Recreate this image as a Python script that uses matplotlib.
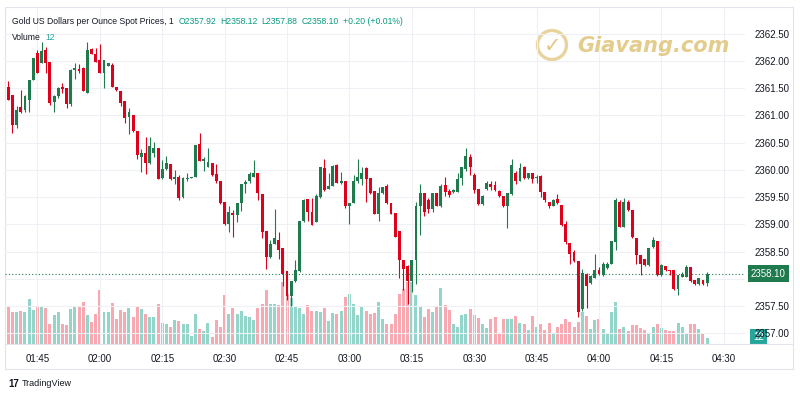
import numpy as np
import matplotlib
matplotlib.use("Agg")
from matplotlib import pyplot as plt
from matplotlib import transforms
from matplotlib.patches import Circle, Rectangle

plt.rcParams['font.family'] = ['Liberation Sans', 'DejaVu Sans']

# 1-minute candles from 01:38 to 04:26
start_minute = 1 * 60 + 38

opens = [2361.53, 2361.38, 2360.83, 2361.15, 2361.10, 2361.29, 2361.66, 2362.15, 2361.96, 2362.20,
         2361.98, 2361.24, 2361.35, 2361.53, 2361.50, 2361.21, 2361.83, 2361.85, 2361.87, 2361.42,
         2362.22, 2362.13, 2362.01, 2361.78, 2361.90, 2361.93, 2361.53, 2361.44, 2361.26, 2360.97,
         2361.01, 2360.72, 2360.23, 2360.31, 2360.12, 2360.31, 2360.40, 2359.85, 2360.01, 2360.11,
         2359.83, 2359.87, 2359.50, 2359.83, 2359.86, 2359.87, 2360.47, 2360.17, 2360.06, 2360.12,
         2359.93, 2359.80, 2359.42, 2359.00, 2359.21, 2359.17, 2359.39, 2359.74, 2359.79, 2359.88,
         2359.94, 2359.56, 2358.88, 2358.40, 2358.65, 2358.72, 2358.56, 2358.15, 2357.68, 2357.96,
         2358.15, 2359.07, 2359.46, 2359.23, 2359.04, 2359.50, 2360.03, 2359.66, 2359.71, 2360.09,
         2359.76, 2359.79, 2359.34, 2359.40, 2359.79, 2359.83, 2360.03, 2359.85, 2359.62, 2359.19,
         2359.58, 2359.71, 2359.39, 2359.21, 2358.88, 2358.34, 2358.23, 2357.96, 2358.34, 2359.33,
         2359.57, 2359.45, 2359.29, 2359.57, 2359.33, 2359.72, 2359.62, 2359.60, 2359.60, 2359.85,
         2360.01, 2360.23, 2359.91, 2359.66, 2359.37, 2359.66, 2359.75, 2359.72, 2359.62, 2359.52,
         2359.34, 2359.56, 2359.95, 2359.79, 2360.05, 2359.85, 2359.94, 2359.86, 2359.89, 2359.60,
         2359.42, 2359.34, 2359.46, 2359.36, 2359.01, 2358.66, 2358.50, 2358.33, 2357.45, 2358.10,
         2357.93, 2358.01, 2358.17, 2358.07, 2358.21, 2358.28, 2358.68, 2359.42, 2358.96, 2359.42,
         2359.26, 2358.76, 2358.44, 2358.36, 2358.25, 2358.59, 2358.70, 2358.07, 2358.23, 2358.17,
         2358.16, 2357.82, 2358.04, 2358.04, 2358.22, 2357.99, 2357.91, 2357.99, 2357.92]
highs = [2361.64, 2361.38, 2361.17, 2361.47, 2361.38, 2361.66, 2362.06, 2362.21, 2362.34, 2362.25,
         2361.98, 2361.38, 2361.53, 2361.60, 2361.50, 2361.85, 2361.96, 2361.94, 2361.89, 2362.34,
         2362.24, 2362.24, 2362.32, 2362.02, 2361.96, 2361.96, 2361.53, 2361.44, 2361.26, 2361.14,
         2361.01, 2360.72, 2360.38, 2360.61, 2360.60, 2360.52, 2360.40, 2360.18, 2360.25, 2360.11,
         2360.00, 2359.91, 2359.88, 2359.94, 2359.88, 2360.46, 2360.67, 2360.23, 2360.40, 2360.12,
         2360.11, 2359.80, 2359.42, 2359.34, 2359.26, 2359.39, 2359.74, 2359.82, 2359.96, 2360.18,
         2359.94, 2359.56, 2358.88, 2358.72, 2359.29, 2358.87, 2358.56, 2358.15, 2357.96, 2358.34,
         2359.07, 2359.47, 2359.47, 2359.48, 2359.56, 2360.05, 2360.21, 2359.94, 2360.09, 2360.11,
         2359.96, 2359.79, 2359.40, 2359.91, 2360.21, 2360.06, 2360.06, 2359.85, 2359.62, 2359.69,
         2359.69, 2359.75, 2359.39, 2359.21, 2358.88, 2358.35, 2358.25, 2358.34, 2359.42, 2359.74,
         2359.58, 2359.48, 2359.58, 2359.58, 2359.75, 2359.88, 2359.65, 2359.66, 2359.94, 2360.06,
         2360.40, 2360.29, 2359.94, 2359.66, 2359.54, 2359.79, 2359.79, 2359.80, 2359.64, 2359.52,
         2359.57, 2360.21, 2359.98, 2360.13, 2360.07, 2359.95, 2359.95, 2359.91, 2359.91, 2359.60,
         2359.42, 2359.46, 2359.56, 2359.36, 2359.06, 2358.66, 2358.53, 2358.33, 2358.19, 2358.11,
         2358.07, 2358.45, 2358.22, 2358.31, 2358.31, 2358.70, 2359.48, 2359.45, 2359.48, 2359.44,
         2359.26, 2358.76, 2358.44, 2358.36, 2358.56, 2358.77, 2358.70, 2358.27, 2358.23, 2358.17,
         2358.16, 2358.07, 2358.13, 2358.25, 2358.22, 2357.99, 2358.02, 2357.99, 2358.12]
lows = [2361.28, 2360.67, 2360.77, 2361.05, 2361.07, 2361.07, 2361.66, 2361.78, 2361.96, 2361.78,
        2361.20, 2361.07, 2361.32, 2361.41, 2361.13, 2361.17, 2361.67, 2361.78, 2361.44, 2361.42,
        2362.12, 2361.99, 2361.78, 2361.50, 2361.90, 2361.53, 2361.44, 2361.17, 2360.87, 2360.66,
        2360.69, 2360.20, 2359.97, 2359.93, 2360.11, 2360.23, 2359.83, 2359.83, 2360.00, 2359.82,
        2359.74, 2359.45, 2359.48, 2359.79, 2359.85, 2359.87, 2360.17, 2359.98, 2360.06, 2359.89,
        2359.77, 2359.37, 2358.99, 2358.87, 2358.77, 2359.05, 2359.24, 2359.58, 2359.77, 2359.87,
        2359.45, 2358.76, 2358.19, 2358.39, 2358.64, 2358.37, 2357.88, 2357.62, 2357.50, 2357.94,
        2358.13, 2359.05, 2359.07, 2358.99, 2359.04, 2359.48, 2359.62, 2359.65, 2359.70, 2359.76,
        2359.75, 2359.30, 2359.01, 2359.39, 2359.77, 2359.73, 2359.42, 2359.56, 2359.19, 2359.07,
        2359.56, 2359.37, 2359.19, 2358.77, 2358.02, 2357.80, 2357.55, 2357.76, 2357.90, 2358.80,
        2359.15, 2359.21, 2359.23, 2359.33, 2359.32, 2359.52, 2359.51, 2359.58, 2359.59, 2359.72,
        2359.98, 2359.91, 2359.58, 2359.35, 2359.35, 2359.63, 2359.63, 2359.62, 2359.51, 2359.32,
        2358.93, 2359.54, 2359.75, 2359.79, 2359.83, 2359.83, 2359.77, 2359.77, 2359.51, 2359.42,
        2359.30, 2359.33, 2359.38, 2358.97, 2358.64, 2358.28, 2358.31, 2357.30, 2357.41, 2357.47,
        2357.91, 2358.01, 2358.07, 2358.05, 2358.19, 2358.27, 2358.54, 2358.95, 2358.95, 2359.25,
        2358.76, 2358.28, 2358.08, 2358.23, 2358.23, 2358.57, 2358.05, 2358.05, 2358.15, 2358.08,
        2357.80, 2357.71, 2358.03, 2358.03, 2357.94, 2357.89, 2357.89, 2357.89, 2357.88]
closes = [2361.28, 2360.82, 2361.10, 2361.07, 2361.35, 2361.66, 2362.06, 2361.78, 2362.18, 2361.96,
          2361.23, 2361.35, 2361.50, 2361.49, 2361.21, 2361.84, 2361.87, 2361.81, 2361.44, 2362.21,
          2362.12, 2361.99, 2361.78, 2362.02, 2361.96, 2361.53, 2361.47, 2361.23, 2360.95, 2361.06,
          2360.71, 2360.28, 2360.31, 2360.13, 2360.44, 2360.40, 2359.83, 2360.01, 2360.12, 2359.83,
          2359.87, 2359.48, 2359.85, 2359.86, 2359.87, 2360.46, 2360.17, 2360.20, 2360.15, 2359.91,
          2359.79, 2359.40, 2359.00, 2359.23, 2359.18, 2359.39, 2359.74, 2359.78, 2359.93, 2359.94,
          2359.57, 2358.87, 2358.40, 2358.64, 2358.76, 2358.54, 2358.10, 2357.68, 2357.96, 2358.16,
          2359.07, 2359.45, 2359.23, 2358.99, 2359.52, 2360.05, 2359.64, 2359.71, 2360.07, 2359.77,
          2359.79, 2359.34, 2359.40, 2359.80, 2359.87, 2359.94, 2359.83, 2359.58, 2359.20, 2359.57,
          2359.68, 2359.39, 2359.20, 2358.77, 2358.34, 2358.19, 2357.96, 2358.34, 2359.34, 2359.57,
          2359.23, 2359.28, 2359.57, 2359.34, 2359.71, 2359.60, 2359.54, 2359.64, 2359.83, 2360.05,
          2360.25, 2360.05, 2359.64, 2359.37, 2359.52, 2359.77, 2359.69, 2359.64, 2359.52, 2359.33,
          2359.57, 2360.09, 2359.79, 2360.03, 2359.85, 2359.95, 2359.83, 2359.87, 2359.60, 2359.44,
          2359.34, 2359.45, 2359.39, 2358.99, 2358.67, 2358.45, 2358.33, 2357.39, 2358.11, 2357.88,
          2358.05, 2358.17, 2358.09, 2358.27, 2358.28, 2358.70, 2359.44, 2358.96, 2359.42, 2359.26,
          2358.77, 2358.44, 2358.28, 2358.25, 2358.56, 2358.71, 2358.07, 2358.25, 2358.16, 2358.15,
          2357.82, 2358.07, 2358.09, 2358.22, 2357.96, 2357.91, 2358.02, 2357.91, 2358.10]
volumes = [80, 67, 67, 70, 67, 94, 71, 80, 80, 76, 43, 61, 67, 43, 40, 74, 78, 80, 89, 61,
           46, 63, 113, 67, 67, 87, 52, 71, 67, 76, 56, 80, 73, 64, 56, 56, 85, 45, 43, 36,
           50, 48, 41, 41, 17, 64, 31, 28, 45, 15, 50, 35, 104, 63, 76, 64, 69, 59, 56, 50,
           75, 85, 113, 85, 85, 81, 131, 106, 96, 80, 76, 63, 81, 69, 70, 67, 76, 49, 66, 64,
           70, 99, 106, 83, 61, 80, 70, 63, 66, 89, 52, 43, 41, 63, 105, 115, 131, 131, 104, 80,
           57, 73, 68, 78, 117, 82, 71, 43, 36, 61, 64, 74, 61, 54, 43, 34, 52, 56, 24, 53,
           53, 53, 59, 45, 43, 29, 59, 36, 42, 29, 45, 24, 35, 43, 52, 47, 36, 46, 68, 59,
           31, 50, 52, 31, 24, 68, 89, 31, 36, 27, 40, 40, 34, 29, 24, 36, 42, 34, 29, 27,
           27, 45, 36, 20, 42, 42, 31, 22, 12]

price_ticks = [2357.0, 2357.5, 2358.0, 2358.5, 2359.0, 2359.5, 2360.0, 2360.5, 2361.0, 2361.5, 2362.0, 2362.5]
time_labels = ['01:45', '02:00', '02:15', '02:30', '02:45', '03:00', '03:15', '03:30', '03:45', '04:00', '04:15', '04:30']
last_price = 2358.10
last_volume = 12
header_title = 'Gold US Dollars per Ounce Spot Prices, 1'
header_vals = ['O2357.92', 'H2358.12', 'L2357.88', 'C2358.10', '+0.20 (+0.01%)']

up_col = '#1f7a4d'
down_col = '#e0001b'
vol_up = '#93d6c9'
vol_down = '#f7a8b0'
grid_col = '#eef0f5'
text_col = '#131722'

opens = np.array(opens)
closes = np.array(closes)
x = np.arange(len(closes))
is_up = closes >= opens
colors = np.where(is_up, up_col, down_col)

fig = plt.figure(figsize=(8, 4), dpi=100)
fig.patch.set_facecolor('white')

# main price axes, right side price scale
ax = fig.add_axes([5 / 800, 56 / 400, 740 / 800, 336 / 400])
ax2 = ax.twinx()
ax.set_zorder(2)
ax.patch.set_visible(False)
ax2.set_zorder(1)

# volume
ax2.bar(x, volumes, width=0.72, color=np.where(is_up, vol_up, vol_down), linewidth=0)
ax2.set_ylim(0, 706)
ax2.set_yticks([])
for s in ax2.spines.values():
    s.set_visible(False)

# candles
ax.vlines(x, lows, highs, colors=colors, linewidth=0.8)
body_lo = np.minimum(opens, closes)
body_h = np.maximum(np.abs(closes - opens), 0.012)
ax.bar(x, body_h, bottom=body_lo, width=0.7, color=colors, linewidth=0)

ax.set_ylim(2356.807, 2362.972)
ax.set_xlim(-0.8, 177.1)

ax.yaxis.tick_right()
ax.set_yticks(price_ticks)
# the 2358.00 label sits under the last price tag, like on TradingView
ax.set_yticklabels(['' if abs(p - 2358.0) < 1e-6 else '%.2f' % p for p in price_ticks],
                   fontsize=7, color=text_col)
ax.tick_params(axis='y', length=0, pad=7)

tick_pos = []
for lab in time_labels:
    hh, mm = lab.split(':')
    tick_pos.append(int(hh) * 60 + int(mm) - start_minute)
ax.set_xticks(tick_pos)
ax.set_xticklabels(time_labels, fontsize=7, color=text_col)
ax.tick_params(axis='x', length=0, pad=7)

ax.grid(True, color=grid_col, linewidth=0.8)
ax.set_axisbelow(True)
for s in ax.spines.values():
    s.set_visible(False)

# last price line + tags
ax.axhline(last_price, color=up_col, linewidth=0.8, linestyle=(0, (1, 2)))
trans = transforms.blended_transform_factory(ax.transAxes, ax.transData)
ax.text(1.008, last_price, '%.2f' % last_price, transform=trans, fontsize=7, color='white',
        va='center', ha='left', clip_on=False, zorder=10,
        bbox=dict(boxstyle='square,pad=0.35', facecolor=up_col, edgecolor='none'))
trans2 = transforms.blended_transform_factory(ax2.transAxes, ax2.transData)
ax2.text(1.011, last_volume + 2, str(last_volume), transform=trans2, fontsize=7, color='white',
         va='center', ha='left', clip_on=False, zorder=10,
         bbox=dict(boxstyle='square,pad=0.3', facecolor='#26a69a', edgecolor='none'))

# frame lines
fig.add_artist(Rectangle((5 / 800, 31 / 400), 788 / 800, 362 / 400, transform=fig.transFigure,
                         fill=False, edgecolor='#e0e3eb', linewidth=0.8))
fig.add_artist(plt.Line2D([5 / 800, 793 / 800], [56 / 400, 56 / 400], color='#e0e3eb', linewidth=0.8))

# header legend, laid out one piece after another
renderer = fig.canvas.get_renderer()
hx = 12
t = fig.text(hx / 800, 1 - 21 / 400, header_title, fontsize=6.2, color=text_col, va='center')
hx += t.get_window_extent(renderer).width + 5
for v in header_vals:
    t = fig.text(hx / 800, 1 - 21 / 400, v, fontsize=6.2, color='#089981', va='center')
    hx += t.get_window_extent(renderer).width + 4
fig.text(12 / 800, 1 - 37 / 400, 'Volume', fontsize=6.2, color=text_col, va='center')
fig.text(45 / 800, 1 - 37 / 400, str(last_volume), fontsize=6.2, color='#26a69a', va='center')

# Giavang watermark (circle in inches so it stays round)
gold = '#d8b75c'
fig.add_artist(Circle((5.52, 3.55), 0.145, transform=fig.dpi_scale_trans,
                      fill=False, edgecolor=gold, linewidth=2.4, alpha=0.6))
fig.text(5.53, 3.54, '✓', transform=fig.dpi_scale_trans, fontsize=15, color=gold, alpha=0.75,
         ha='center', va='center', fontweight='bold', family=['DejaVu Sans'])
fig.text(577 / 800, 1 - 46 / 400, 'Giavang.com', fontsize=15, color=gold, alpha=0.7,
         fontweight='bold', style='italic', va='center', family=['DejaVu Sans'])

# TradingView footer
fig.text(8 / 800, 1 - 384 / 400, '17', fontsize=7, fontweight='bold', color=text_col, va='center')
fig.text(22 / 800, 1 - 384 / 400, 'TradingView', fontsize=6.5, color=text_col, va='center')

plt.savefig('out.png', dpi=100, facecolor='white')
